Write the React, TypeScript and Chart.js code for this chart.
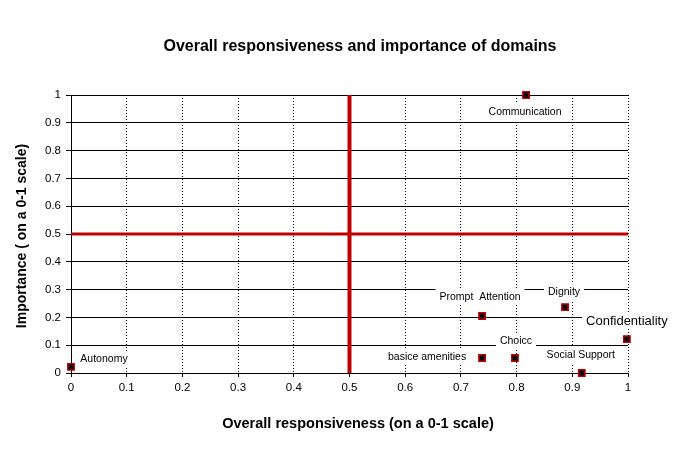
import React, { useEffect, useRef } from 'react';
import { Chart, registerables } from 'chart.js';

Chart.register(...registerables);

// ---- data ----
const domains = [
  'Communication',
  'Prompt  Attention',
  'Dignity',
  'Confidentiality',
  'Choicc',
  'basice amenities',
  'Social Support',
  'Autonomy',
];
const responsiveness = [0.817, 0.738, 0.887, 0.998, 0.797, 0.738, 0.917, 0.0];
const importance = [1.0, 0.205, 0.237, 0.122, 0.054, 0.054, 0.0, 0.022];
const tickValues = [0, 0.1, 0.2, 0.3, 0.4, 0.5, 0.6, 0.7, 0.8, 0.9, 1];
const tickLabels = ['0', '0.1', '0.2', '0.3', '0.4', '0.5', '0.6', '0.7', '0.8', '0.9', '1'];
const thresholdX = 0.5;
const thresholdY = 0.5;
const chartTitle = 'Overall responsiveness and importance of domains';
const xTitle = 'Overall responsiveness (on a 0-1 scale)';
const yTitle = 'Importance ( on a 0-1 scale)';

// ---- label placement (pixel offsets from each point, and font size) ----
const labelOffsets: [number, number][] = [
  [-1, 17],
  [-2, -19],
  [-1, -15],
  [0, -18],
  [1, -17],
  [-55, -1],
  [-1, -18],
  [33, -8],
];
const labelSizes = [10.5, 10.5, 10.5, 13, 10.5, 10.5, 10.5, 10.5];

const RED = '#c00000';
const FONT = 'Arial, "Liberation Sans", sans-serif';

const labelPlugin = {
  id: 'domainLabels',
  beforeDatasetsDraw(chart: any) {
    const ctx = chart.ctx;
    const xs = chart.scales.x;
    const ys = chart.scales.y;
    ctx.save();
    ctx.textAlign = 'center';
    ctx.textBaseline = 'middle';
    domains.forEach((name, i) => {
      const px = xs.getPixelForValue(responsiveness[i]) + labelOffsets[i][0];
      const py = ys.getPixelForValue(importance[i]) + labelOffsets[i][1];
      ctx.font = `${labelSizes[i]}px ${FONT}`;
      const w = ctx.measureText(name).width;
      ctx.fillStyle = '#ffffff';
      ctx.fillRect(px - w / 2 - 4, py - 8, w + 8, 16);
      ctx.fillStyle = '#000000';
      ctx.fillText(name, px, py);
    });
    ctx.restore();
  },
  afterDraw(chart: any) {
    const ctx = chart.ctx;
    ctx.save();
    ctx.fillStyle = '#000000';
    ctx.textAlign = 'center';
    ctx.textBaseline = 'middle';
    ctx.font = `bold 16px ${FONT}`;
    ctx.fillText(chartTitle, 360, 47);
    ctx.font = `bold 14.5px ${FONT}`;
    ctx.fillText(xTitle, 358, 424);
    ctx.font = `bold 14px ${FONT}`;
    ctx.translate(22, 236);
    ctx.rotate(-Math.PI / 2);
    ctx.fillText(yTitle, 0, 0);
    ctx.restore();
  },
};

export default function App() {
  const ref = useRef<HTMLCanvasElement | null>(null);

  useEffect(() => {
    if (!ref.current) return;
    const points = domains.map((_, i) => ({ x: responsiveness[i], y: importance[i] }));
    const chart = new Chart(ref.current, {
      type: 'scatter',
      data: {
        datasets: [
          {
            label: 'Domains',
            data: points,
            pointStyle: 'rect',
            pointRadius: 4.5,
            pointHoverRadius: 4.5,
            backgroundColor: '#000000',
            borderColor: RED,
            borderWidth: 1.5,
            clip: false,
            order: 0,
          },
          {
            label: 'vertical',
            data: [
              { x: thresholdX, y: 0 },
              { x: thresholdX, y: 1 },
            ],
            showLine: true,
            borderColor: RED,
            borderWidth: 4,
            pointRadius: 0,
            clip: false,
            order: 1,
          },
          {
            label: 'horizontal',
            data: [
              { x: 0, y: thresholdY },
              { x: 1, y: thresholdY },
            ],
            showLine: true,
            borderColor: RED,
            borderWidth: 3,
            pointRadius: 0,
            clip: false,
            order: 1,
          },
        ],
      },
      options: {
        responsive: false,
        animation: false,
        devicePixelRatio: 1,
        layout: { padding: { left: 0, top: 95, right: 56, bottom: 0 } },
        plugins: {
          legend: { display: false },
          title: { display: false },
          tooltip: { enabled: false },
        },
        scales: {
          x: {
            type: 'linear',
            min: 0,
            max: 1,
            afterBuildTicks: (s: any) => {
              s.ticks = tickValues.map((v) => ({ value: v }));
            },
            afterFit: (s: any) => {
              s.height = 82;
            },
            ticks: {
              callback: (_v: any, i: number) => tickLabels[i],
              color: '#000',
              font: { family: FONT, size: 11.5 },
              padding: 4,
              maxRotation: 0,
              autoSkip: false,
            },
            grid: { color: '#000', lineWidth: 1, tickLength: 4, tickColor: '#000' },
            border: { display: true, color: '#000', width: 1, dash: [1, 2] },
          },
          y: {
            type: 'linear',
            min: 0,
            max: 1,
            afterBuildTicks: (s: any) => {
              s.ticks = tickValues.map((v) => ({ value: v }));
            },
            afterFit: (s: any) => {
              s.width = 71;
            },
            ticks: {
              callback: (_v: any, i: number) => tickLabels[i],
              color: '#000',
              font: { family: FONT, size: 11.5 },
              padding: 5,
              autoSkip: false,
            },
            grid: { color: '#000', lineWidth: 1, tickLength: 5, tickColor: '#000' },
            border: { display: true, color: '#000', width: 1 },
          },
        },
      },
      plugins: [labelPlugin],
    });
    return () => chart.destroy();
  }, []);

  return (
    <div style={{ position: 'absolute', left: 0, top: 0, width: 684, height: 455, background: '#fff' }}>
      <canvas ref={ref} width={684} height={455} />
    </div>
  );
}
